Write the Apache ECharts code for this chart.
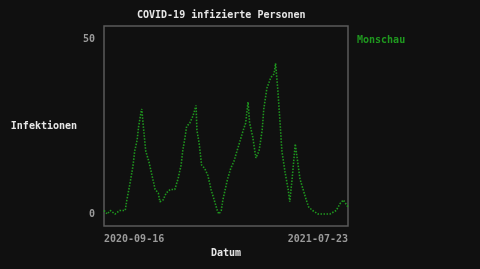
<!DOCTYPE html>
<html><head><meta charset="utf-8">
<script src="https://cdn.jsdelivr.net/npm/echarts@6/dist/echarts.min.js"></script>
<style>html,body{margin:0;padding:0;background:#101010;}#c{width:480px;height:269px;}</style>
</head><body><div id="c"></div>
<script>
const seriesName = "Monschau";
const dates = ["2020-09-16","2020-09-20","2020-09-24","2020-09-30","2020-10-06","2020-10-13","2020-10-15","2020-10-18","2020-10-20","2020-10-23","2020-10-25","2020-10-28","2020-10-30","2020-11-02","2020-11-03","2020-11-05","2020-11-08","2020-11-12","2020-11-16","2020-11-20","2020-11-24","2020-11-26","2020-11-30","2020-12-04","2020-12-09","2020-12-15","2020-12-19","2020-12-23","2020-12-25","2020-12-28","2020-12-30","2021-01-03","2021-01-07","2021-01-11","2021-01-12","2021-01-15","2021-01-18","2021-01-22","2021-01-26","2021-01-30","2021-02-03","2021-02-07","2021-02-09","2021-02-12","2021-02-14","2021-02-17","2021-02-20","2021-02-24","2021-02-28","2021-03-04","2021-03-08","2021-03-12","2021-03-15","2021-03-18","2021-03-20","2021-03-24","2021-03-28","2021-04-01","2021-04-05","2021-04-07","2021-04-11","2021-04-16","2021-04-20","2021-04-22","2021-04-25","2021-04-28","2021-04-30","2021-05-04","2021-05-08","2021-05-10","2021-05-13","2021-05-17","2021-05-20","2021-05-23","2021-05-27","2021-05-31","2021-06-03","2021-06-08","2021-06-15","2021-06-24","2021-06-30","2021-07-08","2021-07-13","2021-07-17","2021-07-23"];
const values = [1,0,1,0,1,1,4,7.5,10,14,18,21,25,29,30,25,18,15,11,7,6,3.5,4,6,7,7,10,14,18,22,25,26,28,31,24,20,14,13,11,7,4,1,0,1,4,7,10,13,15,18,21,24,26,32,26,22,16,18,24,30,36,39,40,43,35,25,18,12,7,3.5,10,20,15,10,7,4,2,1,0,0,0,1,3,4,2];
const yTicks = [0, 50];
const xTicks = ["2020-09-16", "2021-07-23"];

const font = "DejaVu Sans Mono";
const green = "#1f981f";
const chart = echarts.init(document.getElementById('c'), null, {renderer: 'canvas'});
const ts = d => new Date(d + "T00:00:00Z").getTime();
const fmt = v => new Date(v).toISOString().slice(0,10);
chart.setOption({
  backgroundColor: '#101010',
  animation: false,
  title: {text: 'COVID-19 infizierte Personen', left: 132, top: 5,
    textStyle: {color: '#e6e6e6', fontFamily: font, fontSize: 10, fontWeight: 'bold'}},
  legend: {data: [seriesName], left: 347, top: 28, icon: 'none', itemWidth: 0, itemGap: 0,
    textStyle: {color: green, fontFamily: font, fontSize: 10, fontWeight: 'bold'}},
  grid: {left: 104, right: 132, top: 26, bottom: 43, show: true, borderColor: '#5a5a5a', borderWidth: 1.5, backgroundColor: 'transparent'},
  xAxis: {type: 'value', min: ts(xTicks[0]), max: ts(xTicks[1]),
    name: 'Datum', nameLocation: 'middle', nameGap: 21,
    nameTextStyle: {color: '#e6e6e6', fontFamily: font, fontSize: 10, fontWeight: 'bold'},
    axisLine: {show: false}, axisTick: {show: false}, splitLine: {show: false},
    axisLabel: {customValues: xTicks.map(ts), formatter: v => fmt(v), color: '#9a9a9a',
      fontFamily: font, fontSize: 10, fontWeight: 'bold', margin: 8, alignMinLabel: 'left', alignMaxLabel: 'right'}},
  yAxis: {type: 'value', min: -3.43, max: 53.71,
    name: 'Infektionen', nameLocation: 'middle', nameGap: 26, nameRotate: 0,
    nameTextStyle: {color: '#e6e6e6', fontFamily: font, fontSize: 10, fontWeight: 'bold', align: 'right'},
    axisLine: {show: false}, axisTick: {show: false}, splitLine: {show: false},
    axisLabel: {customValues: yTicks, color: '#9a9a9a', fontFamily: font, fontSize: 10, fontWeight: 'bold', margin: 9}},
  series: [{name: seriesName, type: 'line', showSymbol: false, color: green,
    data: dates.map((d, i) => [ts(d), values[i]]),
    lineStyle: {color: green, width: 1.6, type: [1.5, 1.5]}}]
});
</script></body></html>
